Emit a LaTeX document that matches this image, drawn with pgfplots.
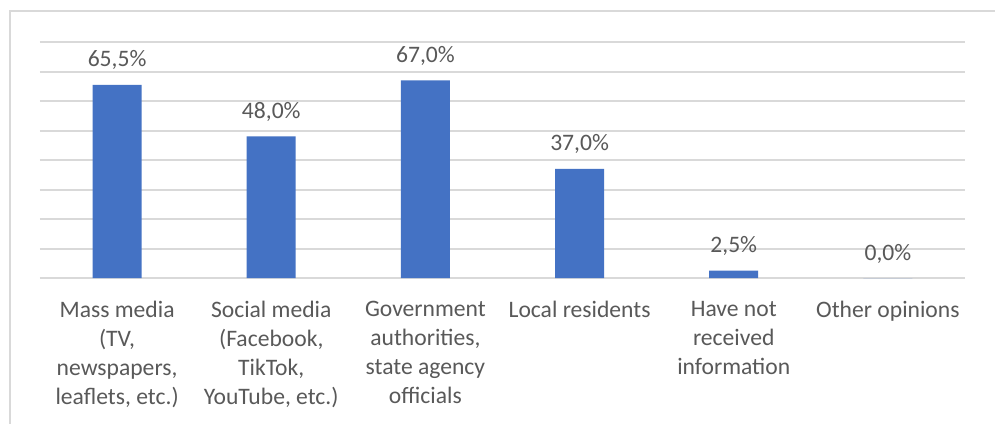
\documentclass[border=0pt]{standalone}
\usepackage{fontspec}
\setmainfont{Carlito}
\usepackage{pgfplots}
\pgfplotsset{compat=1.18}
\definecolor{barblue}{HTML}{4472C4}
\definecolor{txt}{HTML}{595959}
\definecolor{gridc}{HTML}{D9D9D9}
\newcommand{\lblfont}{\fontsize{11.8bp}{14.5bp}\selectfont}
\begin{document}
\begin{tikzpicture}
\useasboundingbox (-20bp,-73bp) rectangle (477.5bp,139bp);
\fill[white] (-20bp,-73bp) rectangle (477.5bp,139bp);
\draw[gridc, line width=1bp] (-14.75bp,-90bp) rectangle (495bp,133.5bp);
\begin{axis}[
  at={(0,0)}, anchor=south west,
  scale only axis, width=462.5bp, height=118bp,
  xmin=-0.5, xmax=5.5, ymin=0, ymax=80,
  ybar, bar width=24.5bp,
  axis line style={draw=none},
  major tick length=0pt,
  ytick={0,10,...,80}, yticklabels={},
  ymajorgrids, grid style={gridc, line width=1bp},
  xtick=data,
  xticklabels={{Mass media\\(TV,\\newspapers,\\leaflets, etc.)},
               {Social media\\(Facebook,\\TikTok,\\YouTube, etc.)},
               {Government\\authorities,\\state agency\\officials},
               {Local residents},
               {Have not\\received\\information},
               {Other opinions}},
  xticklabel style={align=center, font=\lblfont, text=txt, anchor=north, yshift=-8bp},
  point meta=explicit symbolic,
  nodes near coords,
  every node near coord/.append style={font=\lblfont, text=txt, anchor=base, yshift=9bp, inner sep=0pt},
]
\addplot[fill=barblue, draw=none] coordinates {
  (0,65.5) [65,5\%]
  (1,48.0) [48,0\%]
  (2,67.0) [67,0\%]
  (3,37.0) [37,0\%]
  (4,2.5)  [2,5\%]
  (5,0.0)  [0,0\%]
};
\end{axis}
\end{tikzpicture}
\end{document}
